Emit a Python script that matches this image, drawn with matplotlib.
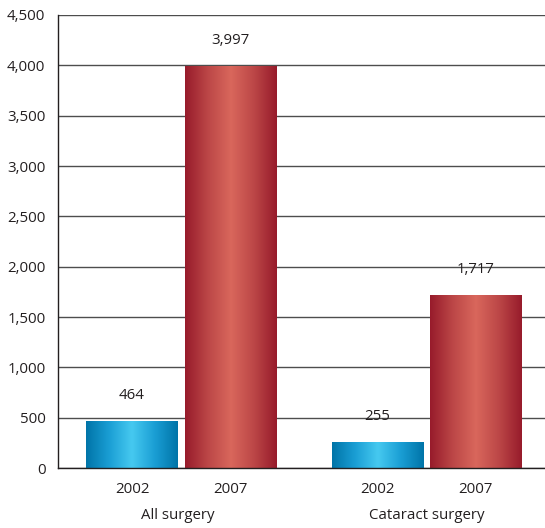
import numpy as np
import matplotlib
matplotlib.use("Agg")
import matplotlib.pyplot as plt
from matplotlib.colors import LinearSegmentedColormap

# Surgery counts by year
groups = ["All surgery", "Cataract surgery"]
years = ["2002", "2007"]
all_surgery = [464, 3997]
cataract_surgery = [255, 1717]
y_ticks = [0, 500, 1000, 1500, 2000, 2500, 3000, 3500, 4000, 4500]

plt.rcParams["font.family"] = ["Open Sans", "DejaVu Sans"]
FS = 10.8

fig = plt.figure(figsize=(5.45, 5.28), dpi=100)
ax = fig.add_axes([0.1064, 0.1136, 0.8936, 0.858])

blue_cmap = LinearSegmentedColormap.from_list(
    "blue_bar", ["#0074A8", "#1A9ED4", "#46C9F0", "#1A9ED4", "#0074A8"])
red_cmap = LinearSegmentedColormap.from_list(
    "red_bar", ["#971B2B", "#BC4747", "#D9675C", "#BC4747", "#971B2B"])

positions = [0.0, 1.0, 2.5, 3.5]
values = [all_surgery[0], all_surgery[1], cataract_surgery[0], cataract_surgery[1]]
cmaps = [blue_cmap, red_cmap, blue_cmap, red_cmap]
width = 0.93

gradient = np.linspace(0, 1, 256).reshape(1, -1)
bars = ax.bar(positions, values, width=width, color="none", edgecolor="none", zorder=2)
for bar, cmap, val in zip(bars, cmaps, values):
    x0 = bar.get_x()
    x1 = x0 + bar.get_width()
    img = ax.imshow(gradient, cmap=cmap, aspect="auto",
                    extent=(x0, x1, 0, val), zorder=2, interpolation="bicubic")
    img.set_clip_path(bar)
    ax.annotate(f"{val:,}", xy=(bar.get_x() + bar.get_width() / 2, val),
                xytext=(0, 13), textcoords="offset points",
                ha="center", va="bottom", fontsize=FS, color="#231F20")

ax.set_xlim(-0.755, 4.21)
ax.set_ylim(0, 4500)
ax.set_yticks(y_ticks)
ax.set_yticklabels([f"{t:,}" for t in y_ticks], fontsize=FS, color="#231F20")
ax.tick_params(axis="y", length=0, pad=9)

ax.set_xticks(positions)
ax.set_xticklabels(years * 2, fontsize=FS, color="#231F20")
ax.tick_params(axis="x", length=0, pad=10)

for label, center in zip(groups, [0.47, 3.0]):
    ax.text(center, -0.105, label, transform=ax.get_xaxis_transform(),
            ha="center", va="center", fontsize=FS, color="#231F20")

ax.yaxis.grid(True, color="#4D4D4D", linewidth=1.0)
ax.set_axisbelow(True)
for side in ["top", "right"]:
    ax.spines[side].set_visible(False)
ax.spines["left"].set_color("#231F20")
ax.spines["bottom"].set_color("#231F20")
ax.spines["left"].set_linewidth(1.0)
ax.spines["bottom"].set_linewidth(1.0)

fig.savefig("out.png", dpi=100)
